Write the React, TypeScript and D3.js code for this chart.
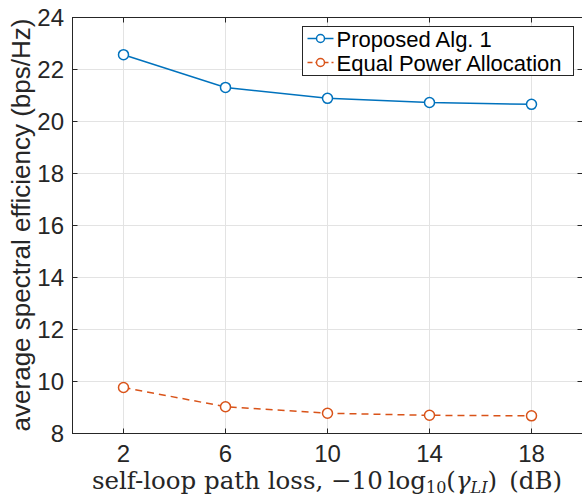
import * as d3 from "d3";
import { useEffect, useRef } from "react";

// values
const xValues = [2, 6, 10, 14, 18];
const proposed = [22.57, 21.31, 20.89, 20.73, 20.66];
const equalPower = [9.77, 9.03, 8.78, 8.7, 8.68];
const xTicks = [2, 6, 10, 14, 18];
const yTicks = [8, 10, 12, 14, 16, 18, 20, 22, 24];
const seriesNames = ["Proposed Alg. 1", "Equal Power Allocation"];

export default function App() {
  const svgRef = useRef<SVGSVGElement>(null);

  useEffect(() => {
    if (!svgRef.current) return;
    const svg = d3.select(svgRef.current);
    svg.selectAll("*").remove();

    const W = 582;
    const H = 498;
    const left = 72.5;
    const right = 582.5;
    const top = 17.5;
    const bottom = 433.5;
    const axisColor = "#262626";
    const font = "'Liberation Sans', Arial, Helvetica, sans-serif";

    const x = d3.scaleLinear().domain([0, 20]).range([left, right]);
    const y = d3.scaleLinear().domain([8, 24]).range([bottom, top]);

    svg.append("rect").attr("width", W).attr("height", H).attr("fill", "white");

    // grid
    const grid = svg.append("g").attr("stroke", "#e3e3e3").attr("stroke-width", 1);
    xTicks.forEach((t) => {
      grid.append("line").attr("x1", x(t)).attr("x2", x(t)).attr("y1", top).attr("y2", bottom);
    });
    yTicks.forEach((t) => {
      grid.append("line").attr("x1", left).attr("x2", right).attr("y1", y(t)).attr("y2", y(t));
    });

    // box
    svg
      .append("rect")
      .attr("x", left)
      .attr("y", top)
      .attr("width", right - left)
      .attr("height", bottom - top)
      .attr("fill", "none")
      .attr("stroke", axisColor)
      .attr("stroke-width", 1);

    // inward ticks
    const ticks = svg.append("g").attr("stroke", axisColor).attr("stroke-width", 1);
    const tl = 5;
    xTicks.forEach((t) => {
      ticks.append("line").attr("x1", x(t)).attr("x2", x(t)).attr("y1", bottom).attr("y2", bottom - tl);
      ticks.append("line").attr("x1", x(t)).attr("x2", x(t)).attr("y1", top).attr("y2", top + tl);
    });
    yTicks.forEach((t) => {
      ticks.append("line").attr("x1", left).attr("x2", left + tl).attr("y1", y(t)).attr("y2", y(t));
      ticks.append("line").attr("x1", right).attr("x2", right - tl).attr("y1", y(t)).attr("y2", y(t));
    });

    // tick labels
    svg
      .append("g")
      .selectAll("text")
      .data(xTicks)
      .enter()
      .append("text")
      .attr("x", (d) => x(d))
      .attr("y", 462)
      .attr("text-anchor", "middle")
      .attr("font-family", font)
      .attr("font-size", 24)
      .attr("fill", axisColor)
      .text((d) => d);

    svg
      .append("g")
      .selectAll("text")
      .data(yTicks)
      .enter()
      .append("text")
      .attr("x", 64)
      .attr("y", (d) => y(d) + 8.5)
      .attr("text-anchor", "end")
      .attr("font-family", font)
      .attr("font-size", 24)
      .attr("fill", axisColor)
      .text((d) => d);

    // y label
    svg
      .append("text")
      .attr("transform", `translate(30,225) rotate(-90)`)
      .attr("text-anchor", "middle")
      .attr("font-family", font)
      .attr("font-size", 26)
      .attr("fill", axisColor)
      .text("average spectral efficiency (bps/Hz)");

    // x label (LaTeX-ish)
    const serif = "'DejaVu Serif', 'Liberation Serif', serif";
    const xl = svg
      .append("text")
      .attr("x", 327)
      .attr("y", 489)
      .attr("text-anchor", "middle")
      .attr("font-family", serif)
      .attr("font-size", 24.5)
      .attr("fill", axisColor);
    xl.append("tspan").text("self-loop path loss, \u221210\u2009log");
    xl.append("tspan").attr("font-size", 16).attr("dy", 4).text("10");
    xl.append("tspan").attr("dy", -4).text("(");
    xl.append("tspan").attr("font-style", "italic").text("\u03B3");
    xl.append("tspan").attr("font-style", "italic").attr("font-size", 16).attr("dy", 4).text("LI");
    xl.append("tspan").attr("dy", -4).text(")\u2002(dB)");

    // series
    const series = [
      { values: proposed, color: "#0072BD", dash: null as string | null },
      { values: equalPower, color: "#D95319", dash: "7,5" },
    ];
    const line = d3
      .line<number>()
      .x((_, i) => x(xValues[i]))
      .y((d) => y(d));

    series.forEach((s) => {
      svg
        .append("path")
        .datum(s.values)
        .attr("fill", "none")
        .attr("stroke", s.color)
        .attr("stroke-width", 1.5)
        .attr("stroke-dasharray", s.dash)
        .attr("d", line);
      svg
        .append("g")
        .selectAll("circle")
        .data(s.values)
        .enter()
        .append("circle")
        .attr("cx", (_, i) => x(xValues[i]))
        .attr("cy", (d) => y(d))
        .attr("r", 5)
        .attr("fill", "white")
        .attr("stroke", s.color)
        .attr("stroke-width", 1.5);
    });

    // legend
    const lg = svg.append("g").attr("transform", "translate(302.5,26.5)");
    lg.append("rect")
      .attr("width", 271)
      .attr("height", 49)
      .attr("fill", "white")
      .attr("stroke", axisColor)
      .attr("stroke-width", 1);
    seriesNames.forEach((name, i) => {
      const s = series[i];
      const cy = 12 + i * 24;
      lg.append("line")
        .attr("x1", 5)
        .attr("x2", 31)
        .attr("y1", cy)
        .attr("y2", cy)
        .attr("stroke", s.color)
        .attr("stroke-width", 1.5)
        .attr("stroke-dasharray", s.dash ? "5,3" : null);
      lg.append("circle")
        .attr("cx", 18)
        .attr("cy", cy)
        .attr("r", 4)
        .attr("fill", "white")
        .attr("stroke", s.color)
        .attr("stroke-width", 1.5);
      lg.append("text")
        .attr("x", 34)
        .attr("y", cy + 8)
        .attr("font-family", font)
        .attr("font-size", 22)
        .attr("fill", "#000")
        .text(name);
    });
  }, []);

  return (
    <svg
      ref={svgRef}
      width={582}
      height={498}
      style={{ position: "absolute", left: 0, top: 0, display: "block" }}
    />
  );
}
